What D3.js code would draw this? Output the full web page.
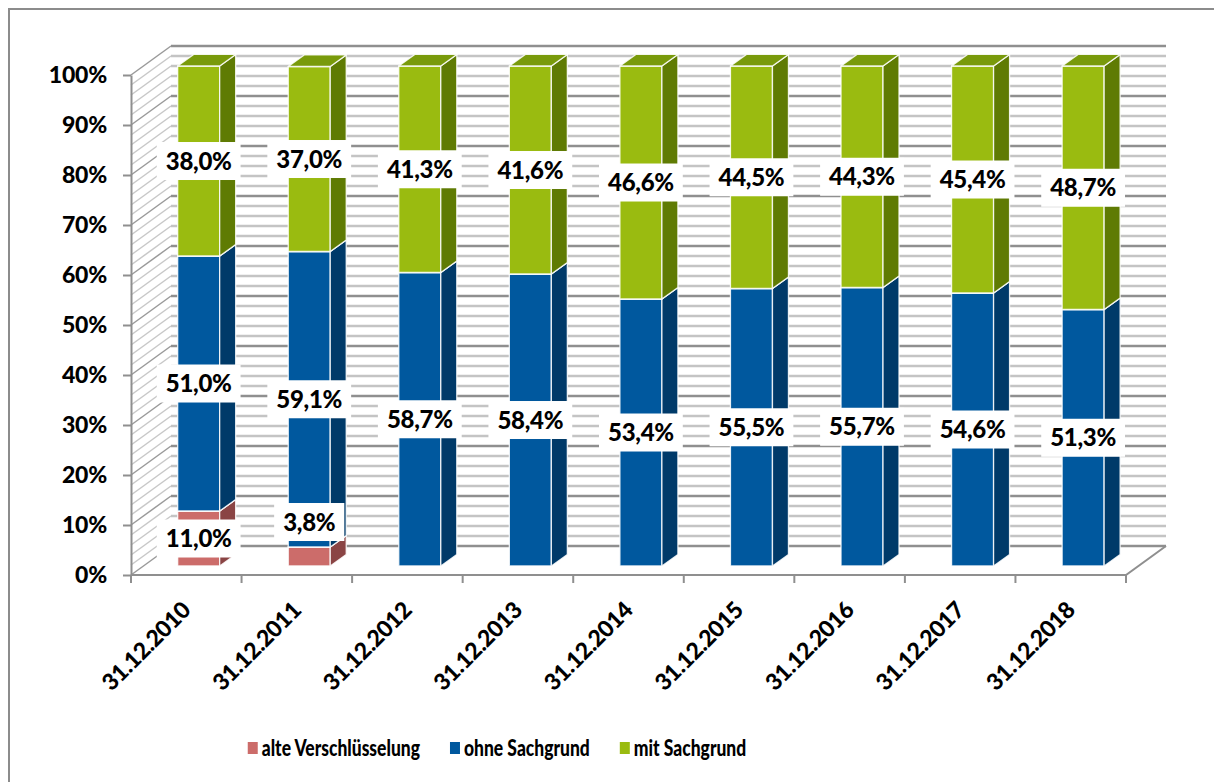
<!DOCTYPE html>
<html>
<head>
<meta charset="utf-8">
<script src="https://d3js.org/d3.v7.min.js"></script>
<style>
    body { margin: 0; background: #fff; }
    svg { font-family: Lato, "Open Sans", sans-serif; font-weight: 900; }
</style>
</head>
<body>
<svg id="drawing_region" width="1214" height="782"></svg>
<script>
// data (percent per date)
const categories = ["31.12.2010", "31.12.2011", "31.12.2012", "31.12.2013", "31.12.2014",
                    "31.12.2015", "31.12.2016", "31.12.2017", "31.12.2018"];
const alte = [11.0, 3.8, 0, 0, 0, 0, 0, 0, 0];
const ohne = [51.0, 59.1, 58.7, 58.4, 53.4, 55.5, 55.7, 54.6, 51.3];
const mit  = [38.0, 37.0, 41.3, 41.6, 46.6, 44.5, 44.3, 45.4, 48.7];
const seriesNames = ["alte Verschlüsselung", "ohne Sachgrund", "mit Sachgrund"];
const yTicks = [0, 10, 20, 30, 40, 50, 60, 70, 80, 90, 100];

const colors = [
    { front: "#cc6c6a", side: "#8a4444", top: "#a85654" },
    { front: "#00589e", side: "#003a69", top: "#00467f" },
    { front: "#9abb10", side: "#5f7b03", top: "#799a0b" }
];

const svg = d3.select('#drawing_region');

// frame
svg.append('path')
    .attr('d', 'M9,782 L9,9 L1214,9')
    .attr('fill', 'none')
    .attr('stroke', '#8c8c8c')
    .attr('stroke-width', 2);

// scales
const x = d3.scaleBand().domain(categories).range([131, 1126]);
const y = d3.scaleLinear().domain([0, 100]).range([575, 75]);

// 3d depth offset (full depth of the box)
const DX = 40, DY = -29;
const d1 = 0.31, d2 = 0.71;   // bar front / back depth
const barW = 42;

function P(xf, v, d) {
    return [xf + DX * d, y(v) + DY * d];
}
function pts(arr) {
    return arr.map(p => p.join(',')).join(' ');
}

const x0 = x.range()[0], x1 = x.range()[1];

// gridlines on back wall and side wall, every 2%
const grid = d3.range(0, 101, 2);
const walls = svg.append('g');
walls.selectAll('line.back')
    .data(grid)
    .enter().append('line')
    .attr('class', 'back')
    .attr('x1', d => P(x0, d, 1)[0])
    .attr('x2', d => P(x1, d, 1)[0])
    .attr('y1', d => P(x0, d, 1)[1])
    .attr('y2', d => P(x1, d, 1)[1])
    .attr('stroke', d => d % 10 == 0 ? '#8f8f8f' : '#c4c4c4')
    .attr('stroke-width', 2.5);

walls.selectAll('line.side')
    .data(grid)
    .enter().append('line')
    .attr('class', 'side')
    .attr('x1', d => P(x0, d, 0)[0])
    .attr('x2', d => P(x0, d, 1)[0])
    .attr('y1', d => P(x0, d, 0)[1])
    .attr('y2', d => P(x0, d, 1)[1])
    .attr('stroke', d => d % 10 == 0 ? '#9a9a9a' : '#c8c8c8')
    .attr('stroke-width', 1.5);

// floor edges
walls.append('polyline')
    .attr('points', pts([P(x0, 0, 0), P(x1, 0, 0), P(x1, 0, 1)]))
    .attr('fill', 'none')
    .attr('stroke', '#8f8f8f')
    .attr('stroke-width', 2);

// y axis
const yAxis = svg.append('g')
    .attr('transform', `translate(${x0},0)`)
    .call(d3.axisLeft(y).tickValues(yTicks).tickFormat(d => d + '%').tickSize(8).tickSizeOuter(0));
yAxis.select('.domain').attr('stroke', '#8f8f8f').attr('stroke-width', 2);
yAxis.selectAll('.tick line').attr('stroke', '#8f8f8f').attr('stroke-width', 2);
yAxis.selectAll('.tick text')
    .attr('x', -24)
    .attr('fill', '#000')
    .style('font-size', '23px')
    .style('letter-spacing', '-0.2px')
    .style('font-family', 'Lato, sans-serif')
    .style('font-weight', 900);

// x axis: ticks at band boundaries, labels at band centers
svg.append('g').selectAll('line')
    .data(d3.range(categories.length + 1))
    .enter().append('line')
    .attr('x1', i => x0 + i * x.step())
    .attr('x2', i => x0 + i * x.step())
    .attr('y1', y(0))
    .attr('y2', y(0) + 8)
    .attr('stroke', '#8f8f8f')
    .attr('stroke-width', 2);

const xAxis = svg.append('g')
    .attr('transform', `translate(0,${y(0)})`)
    .call(d3.axisBottom(x).tickSize(0));
xAxis.select('.domain').remove();
xAxis.selectAll('.tick text')
    .attr('y', 0)
    .attr('dy', '0.35em')
    .attr('text-anchor', 'end')
    .attr('transform', 'translate(0,31) rotate(-45)')
    .attr('fill', '#000')
    .style('font-size', '23px')
    .style('letter-spacing', '-0.4px')
    .style('font-family', 'Lato, sans-serif')
    .style('font-weight', 900);

// stacked bars
const series = [alte, ohne, mit];
const segs = [];
categories.forEach((c, i) => {
    let base = 0;
    series.forEach((s, k) => {
        if (s[i] > 0) segs.push({ cat: c, k: k, v0: base, v1: base + s[i], value: s[i] });
        base += s[i];
    });
});

const bars = svg.append('g');
segs.forEach(s => {
    const cx = x(s.cat) + x.bandwidth() / 2;
    const xl = cx - barW / 2, xr = cx + barW / 2;
    const col = colors[s.k];
    const g = bars.append('g')
        .attr('stroke', 'rgba(255,255,255,0.85)')
        .attr('stroke-width', 1.3)
        .attr('stroke-linejoin', 'round');
    g.append('polygon')
        .attr('points', pts([P(xl, s.v0, d1), P(xr, s.v0, d1), P(xr, s.v1, d1), P(xl, s.v1, d1)]))
        .attr('fill', col.front);
    g.append('polygon')
        .attr('points', pts([P(xr, s.v0, d1), P(xr, s.v0, d2), P(xr, s.v1, d2), P(xr, s.v1, d1)]))
        .attr('fill', col.side);
    g.append('polygon')
        .attr('points', pts([P(xl, s.v1, d1), P(xr, s.v1, d1), P(xr, s.v1, d2), P(xl, s.v1, d2)]))
        .attr('fill', col.top);
});

// data labels
const labels = svg.append('g');
segs.forEach(s => {
    const cx = x(s.cat) + x.bandwidth() / 2;
    const v = s.value < 5 ? s.v1 + 5 : (s.v0 + s.v1) / 2;
    const p = P(cx, v, d1);
    const g = labels.append('g').attr('transform', `translate(${p[0]},${p[1]})`);
    const rect = g.append('rect').attr('fill', '#fff');
    const t = g.append('text')
        .attr('text-anchor', 'middle')
        .attr('dy', '0.36em')
        .style('font-size', '24px')
        .style('letter-spacing', '-0.3px')
        .text(d3.format('.1f')(s.value).replace('.', ',') + '%');
    const w = t.node().getComputedTextLength() + 18;
    rect.attr('x', -w / 2).attr('y', -19).attr('width', w).attr('height', 38);
});

// legend (text squeezed a little to get the narrow look of the original font)
const squeeze = 0.76;
const legend = svg.append('g').attr('transform', 'translate(0,748)');
let lx = 0;
seriesNames.forEach((name, k) => {
    const item = legend.append('g').attr('transform', `translate(${lx},0)`);
    item.append('rect')
        .attr('x', 0).attr('y', -6)
        .attr('width', 10).attr('height', 12)
        .attr('fill', colors[k].front);
    const t = item.append('text')
        .attr('transform', `translate(14,0) scale(${squeeze},1)`)
        .attr('dy', '0.35em')
        .style('font-size', '23px')
        .text(name);
    lx += 14 + t.node().getComputedTextLength() * squeeze + 30;
});
const lw = lx - 30;
legend.attr('transform', `translate(${497 - lw / 2},748)`);
</script>
</body>
</html>
